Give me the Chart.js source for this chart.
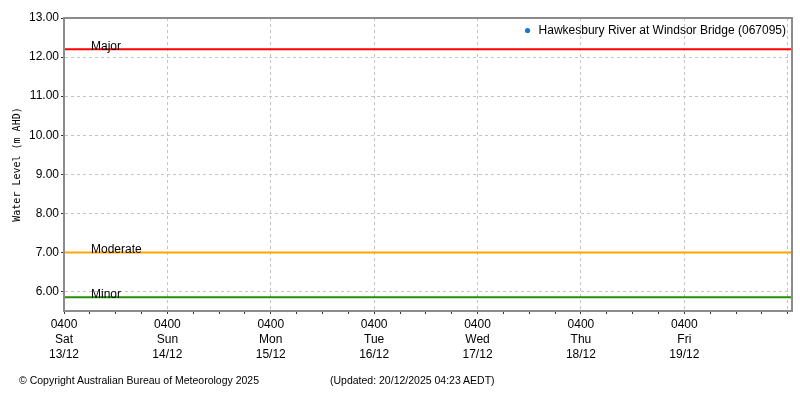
<!DOCTYPE html>
<html>
<head>
<meta charset="utf-8">
<script src="https://cdn.jsdelivr.net/npm/chart.js@4/dist/chart.umd.min.js"></script>
<style>
  html, body { margin: 0; padding: 0; background: #fff; }
  #wrap { position: relative; width: 800px; height: 400px; }
  canvas { position: absolute; left: 0; top: 0; }
  .foot { position: absolute; top: 374px; font: 10.5px "Liberation Sans", Arial, sans-serif; color: #000; white-space: nowrap; }
</style>
</head>
<body>
<div id="wrap">
  <canvas id="c" width="800" height="400"></canvas>
  <div class="foot" style="left:19px">© Copyright Australian Bureau of Meteorology 2025</div>
  <div class="foot" style="left:330px">(Updated: 20/12/2025 04:23 AEDT)</div>
</div>
<script>
// ---- data ----
const seriesName = 'Hawkesbury River at Windsor Bridge (067095)';
const levelHours = [];        // no observed points visible in the plotted range
const levelValues = [];
const thresholdNames = ['Major', 'Moderate', 'Minor'];
const thresholdLevels = [12.2, 7.0, 5.85];
const thresholdColors = ['#ff0000', '#ffa500', '#239100'];
const xMinHour = 0;           // hours from Sat 13/12 04:00
const xMaxHour = 169;
const xTickHours = [0,6,12,18,24,30,36,42,48,54,60,66,72,78,84,90,96,102,108,114,120,126,132,138,144,150,156,162,168];
const dayTimeLabels = ['0400','0400','0400','0400','0400','0400','0400'];
const dayNameLabels = ['Sat','Sun','Mon','Tue','Wed','Thu','Fri'];
const dayDateLabels = ['13/12','14/12','15/12','16/12','17/12','18/12','19/12'];
const yTickValues = [6,7,8,9,10,11,12,13];
const yMin = 5.5, yMax = 13;

const FONT = '"Liberation Sans", Arial, sans-serif';

const datasets = [{
  label: seriesName,
  data: levelHours.map((h, i) => ({x: h, y: levelValues[i]})),
  borderColor: '#1e73d2',
  backgroundColor: '#1e73d2',
  pointRadius: 0,
  borderWidth: 1.5
}];
thresholdNames.forEach((n, i) => {
  datasets.push({
    label: n,
    isThreshold: true,
    data: [{x: xMinHour, y: thresholdLevels[i]}, {x: xMaxHour, y: thresholdLevels[i]}],
    borderColor: thresholdColors[i],
    backgroundColor: thresholdColors[i],
    pointRadius: 0,
    borderWidth: 2
  });
});

const frameAndLabels = {
  id: 'frameAndLabels',
  afterDatasetsDraw(chart) {
    const {ctx, chartArea: a, scales} = chart;
    ctx.save();
    ctx.font = '12px ' + FONT;
    ctx.fillStyle = '#000';
    ctx.textBaseline = 'alphabetic';
    thresholdNames.forEach((n, i) => {
      const y = scales.y.getPixelForValue(thresholdLevels[i]);
      ctx.fillText(n, a.left + 27, y + 1);
    });
    // legend (top-right inside plot area)
    const ds = chart.data.datasets[0];
    const tw = ctx.measureText(ds.label).width;
    const tx = a.right - 6 - tw;
    const ty = a.top + 12.5;
    ctx.textBaseline = 'middle';
    ctx.fillText(ds.label, tx, ty);
    ctx.beginPath();
    ctx.arc(tx - 11, ty, 2.6, 0, Math.PI * 2);
    ctx.fillStyle = ds.backgroundColor;
    ctx.fill();
    ctx.restore();
  },
  afterDraw(chart) {
    const {ctx, chartArea: a} = chart;
    ctx.save();
    ctx.strokeStyle = '#8c8c8c';
    ctx.lineWidth = 2;
    ctx.strokeRect(a.left, a.top, a.right - a.left, a.bottom - a.top);
    ctx.restore();
  }
};

new Chart(document.getElementById('c'), {
  type: 'line',
  data: { datasets },
  plugins: [frameAndLabels],
  options: {
    responsive: false,
    animation: false,
    layout: { padding: { left: 0, right: 8, top: 18, bottom: 0 } },
    plugins: {
      legend: { display: false },
      tooltip: { enabled: false }
    },
    scales: {
      x: {
        type: 'linear',
        min: xMinHour,
        max: xMaxHour,
        afterBuildTicks: (s) => { s.ticks = xTickHours.map(v => ({value: v})); },
        afterFit: (s) => { s.height = 89; },
        ticks: {
          autoSkip: false,
          maxRotation: 0,
          padding: 3,
          color: '#000',
          font: { family: FONT, size: 12, lineHeight: 1.25 },
          callback: (v) => {
            if (v % 24 !== 0) return '';
            const d = v / 24;
            if (d >= dayNameLabels.length) return '';
            return [dayTimeLabels[d], dayNameLabels[d], dayDateLabels[d]];
          }
        },
        grid: {
          color: (c) => (c.tick && c.tick.value % 24 === 0) ? '#c4c4c4' : 'rgba(0,0,0,0)',
          tickColor: '#333',
          tickLength: 3,
          lineWidth: 1,
          tickWidth: 1
        },
        border: { color: '#8c8c8c', width: 2, dash: [3, 3] }
      },
      y: {
        min: yMin,
        max: yMax,
        afterBuildTicks: (s) => { s.ticks = yTickValues.map(v => ({value: v})); },
        afterFit: (s) => { s.width = 64; },
        ticks: {
          padding: 2,
          color: '#000',
          font: { family: FONT, size: 12 },
          callback: (v) => Number(v).toFixed(2)
        },
        grid: {
          color: '#c4c4c4',
          tickColor: '#333',
          tickLength: 3,
          lineWidth: 1
        },
        border: { color: '#8c8c8c', width: 2, dash: [3, 3] },
        title: {
          display: true,
          text: 'Water Level (m AHD)',
          color: '#000',
          font: { family: '"DejaVu Sans Mono", monospace', size: 10 },
          padding: { top: 11, bottom: 0 }
        }
      }
    }
  }
});
</script>
</body>
</html>
